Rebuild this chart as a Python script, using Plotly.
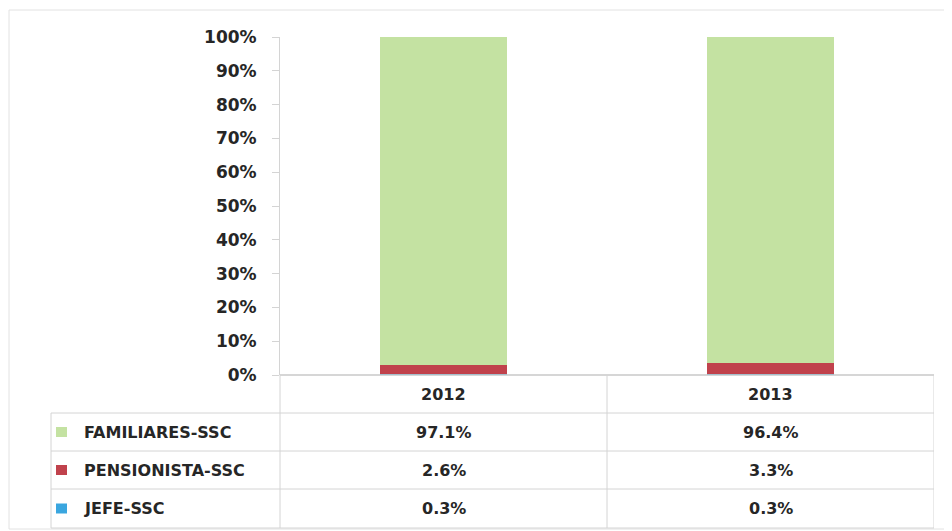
import plotly.graph_objects as go

years = ["2012", "2013"]
series_names = ["JEFE-SSC", "PENSIONISTA-SSC", "FAMILIARES-SSC"]
jefe = [0.3, 0.3]
pensionista = [2.6, 3.3]
familiares = [97.1, 96.4]
colors = {"JEFE-SSC": "#3aa6df", "PENSIONISTA-SSC": "#c0424c", "FAMILIARES-SSC": "#c4e2a2"}
y_ticks = [0, 10, 20, 30, 40, 50, 60, 70, 80, 90, 100]

OFF = 8  # page body margin
W, H = 952 - OFF, 531 - OFF
L, R, T, B = 280 - OFF, 18, 37 - OFF, 156
PW = W - L - R
PH = H - T - B

def px(x):
    return (x - OFF - L) / PW

def py(y):
    return (H - B - (y - OFF)) / PH

values = {"JEFE-SSC": jefe, "PENSIONISTA-SSC": pensionista, "FAMILIARES-SSC": familiares}

fig = go.Figure()
for name in series_names:
    fig.add_trace(go.Bar(
        x=years, y=[v / 100 for v in values[name]], name=name,
        marker=dict(color=colors[name], line=dict(width=0)),
        width=0.39, showlegend=False,
    ))

font = dict(family="DejaVu Sans", size=16, color="#262626", weight="bold")
line_col = "#d4d4d4"
shapes = []
annotations = []

# Outer border
shapes.append(dict(type="rect", xref="paper", yref="paper", x0=px(9), x1=px(946), y0=py(10), y1=py(529),
                   line=dict(color="#e2e2e2", width=1)))

# Table geometry
row_lines = [375, 413, 451, 489, 528]
table_left, table_right = 51, 934
shapes.append(dict(type="line", xref="paper", yref="paper", x0=px(280), x1=px(table_right), y0=py(375), y1=py(375),
                   line=dict(color="#c8c8c8", width=1.5)))
for yl in row_lines[1:]:
    shapes.append(dict(type="line", xref="paper", yref="paper", x0=px(table_left), x1=px(table_right), y0=py(yl), y1=py(yl),
                       line=dict(color=line_col, width=1)))
shapes.append(dict(type="line", xref="paper", yref="paper", x0=px(table_left), x1=px(table_left), y0=py(413), y1=py(528),
                   line=dict(color=line_col, width=1)))
shapes.append(dict(type="line", xref="paper", yref="paper", x0=px(280), x1=px(280), y0=py(375), y1=py(528),
                   line=dict(color=line_col, width=1)))
for xb in [0.5, 1.5]:
    shapes.append(dict(type="line", xref="x", yref="paper", x0=xb, x1=xb, y0=py(375), y1=py(528),
                       line=dict(color=line_col, width=1)))

# Header
for i, yr in enumerate(years):
    annotations.append(dict(x=i, y=py(394), xref="x", yref="paper", text=yr, showarrow=False,
                            yanchor="middle", xanchor="center", font=font))

row_order = ["FAMILIARES-SSC", "PENSIONISTA-SSC", "JEFE-SSC"]
for r, name in enumerate(row_order):
    yc = (row_lines[r + 1] + row_lines[r + 2]) / 2
    shapes.append(dict(type="rect", xref="paper", yref="paper", x0=px(56), x1=px(67), y0=py(yc - 5), y1=py(yc + 5),
                       fillcolor=colors[name], line=dict(width=0)))
    annotations.append(dict(x=px(82), y=py(yc), xref="paper", yref="paper", text=name, showarrow=False,
                            xanchor="left", yanchor="middle", font=font))
    for i, v in enumerate(values[name]):
        annotations.append(dict(x=i, y=py(yc), xref="x", yref="paper", text=f"{v:.1f}%", showarrow=False,
                                xanchor="center", yanchor="middle", font=font))

fig.update_layout(
    width=W, height=H,
    margin=dict(l=L, r=R, t=T, b=B, autoexpand=False),
    barmode="stack",
    paper_bgcolor="white", plot_bgcolor="white",
    xaxis=dict(range=[-0.5, 1.5], showticklabels=False, showgrid=False, zeroline=False, showline=False, ticks=""),
    yaxis=dict(range=[0, 1], tickvals=[t / 100 for t in y_ticks], ticktext=[f"{t}%" for t in y_ticks],
               showgrid=False, zeroline=False, showline=True, linecolor=line_col, linewidth=1,
               ticks="outside", ticklen=7, tickcolor=line_col, ticklabelstandoff=12,
               tickfont=dict(family="DejaVu Sans", size=17, color="#262626", weight="bold")),
    shapes=shapes, annotations=annotations,
)

fig.write_html("out.html")
